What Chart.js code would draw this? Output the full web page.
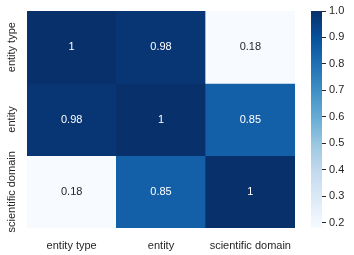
<!DOCTYPE html>
<html>
<head>
<meta charset="utf-8">
<script src="https://cdn.jsdelivr.net/npm/chart.js@4"></script>
<style>
  body { margin: 0; background: #fff; }
  #wrap { position: relative; width: 354px; height: 255px; }
  #heat { position: absolute; left: 0; top: 0; }
  #cbar { position: absolute; left: 300px; top: 0; }
</style>
</head>
<body>
<div id="wrap">
  <canvas id="heat" width="300" height="255"></canvas>
  <canvas id="cbar" width="54" height="255"></canvas>
</div>
<script>
// categories and matrix rows
var labels = ['entity type', 'entity', 'scientific domain'];
var rowEntityType = [1, 0.98, 0.18];
var rowEntity = [0.98, 1, 0.85];
var rowDomain = [0.18, 0.85, 1];
var rows = [rowEntityType, rowEntity, rowDomain];
var cbarTicks = [0.2, 0.3, 0.4, 0.5, 0.6, 0.7, 0.8, 0.9, 1.0];
var vmin = 0.18, vmax = 1;

var blues = ['#f7fbff', '#deebf7', '#c6dbef', '#9ecae1', '#6baed6', '#4292c6', '#2171b5', '#08519c', '#08306b'];
var FONT = 'Liberation Sans, Arial, sans-serif';
var TXT = '#262626';

function hex(c) {
    return [parseInt(c.substr(1, 2), 16), parseInt(c.substr(3, 2), 16), parseInt(c.substr(5, 2), 16)];
}
function bluesAt(v) {
    var t = (v - vmin) / (vmax - vmin);
    t = Math.max(0, Math.min(1, t)) * (blues.length - 1);
    var i = Math.min(Math.floor(t), blues.length - 2);
    var f = t - i;
    var a = hex(blues[i]), b = hex(blues[i + 1]);
    var c = a.map(function (x, k) { return Math.round(x + (b[k] - x) * f); });
    return 'rgb(' + c.join(',') + ')';
}
function lum(v) {
    var c = bluesAt(v).match(/\d+/g).map(Number).map(function (x) {
        x = x / 255;
        return x <= 0.03928 ? x / 12.92 : Math.pow((x + 0.055) / 1.055, 2.4);
    });
    return 0.2126 * c[0] + 0.7152 * c[1] + 0.0722 * c[2];
}

var dsets = rows.map(function (r, i) {
    return {
        label: labels[i],
        data: r.map(function () { return 1; }),
        values: r,
        backgroundColor: r.map(bluesAt),
        borderWidth: 0,
        barPercentage: 1,
        categoryPercentage: 1
    };
});

var annotate = {
    id: 'annotate',
    afterDatasetsDraw: function (chart) {
        var ctx = chart.ctx;
        ctx.save();
        ctx.font = '11px ' + FONT;
        ctx.textAlign = 'center';
        ctx.textBaseline = 'middle';
        chart.data.datasets.forEach(function (ds, di) {
            chart.getDatasetMeta(di).data.forEach(function (el, j) {
                var v = ds.values[j];
                var p = el.getCenterPoint();
                ctx.fillStyle = lum(v) > 0.408 ? TXT : '#ffffff';
                ctx.fillText(String(v), p.x, p.y);
            });
        });
        // y labels, rotated
        var ys = chart.scales.y;
        ctx.fillStyle = TXT;
        labels.forEach(function (l, i) {
            var y = ys.getPixelForValue(i + 0.5);
            ctx.save();
            ctx.translate(11.5, y);
            ctx.rotate(-Math.PI / 2);
            ctx.fillText(l, 0, 0);
            ctx.restore();
        });
        ctx.restore();
    }
};

new Chart(document.getElementById('heat'), {
    type: 'bar',
    data: { labels: labels, datasets: dsets },
    options: {
        responsive: false,
        animation: false,
        events: [],
        layout: { padding: { left: 27, right: 5, top: 11, bottom: 0 } },
        plugins: { legend: { display: false }, tooltip: { enabled: false } },
        scales: {
            x: {
                stacked: true,
                grid: { display: false },
                border: { display: false },
                ticks: { color: TXT, font: { family: FONT, size: 11 }, padding: 3, maxRotation: 0 },
                afterFit: function (s) { s.height = 27; }
            },
            y: {
                stacked: true,
                reverse: true,
                min: 0,
                max: 3,
                display: false
            }
        }
    },
    plugins: [annotate]
});

new Chart(document.getElementById('cbar'), {
    type: 'bar',
    data: {
        labels: [''],
        datasets: [{
            data: [[vmin, vmax]],
            borderWidth: 0,
            barPercentage: 1,
            categoryPercentage: 1,
            backgroundColor: function (c) {
                var area = c.chart.chartArea;
                if (!area) return blues[8];
                var g = c.chart.ctx.createLinearGradient(0, area.bottom, 0, area.top);
                blues.forEach(function (b, i) { g.addColorStop(i / (blues.length - 1), b); });
                return g;
            }
        }]
    },
    options: {
        responsive: false,
        animation: false,
        events: [],
        layout: { padding: { left: 11, right: 0, top: 11, bottom: 27 } },
        plugins: { legend: { display: false }, tooltip: { enabled: false } },
        scales: {
            x: { display: false },
            y: {
                position: 'right',
                min: vmin,
                max: vmax,
                afterBuildTicks: function (s) {
                    s.ticks = cbarTicks.map(function (v) { return { value: v }; });
                },
                grid: { drawOnChartArea: false, tickLength: 4, tickColor: TXT, tickWidth: 1 },
                border: { display: false },
                ticks: {
                    color: TXT,
                    font: { family: FONT, size: 11 },
                    padding: 3,
                    callback: function (v) { return v.toFixed(1); }
                },
                afterFit: function (s) { s.width = 32; }
            }
        }
    }
});
</script>
</body>
</html>
